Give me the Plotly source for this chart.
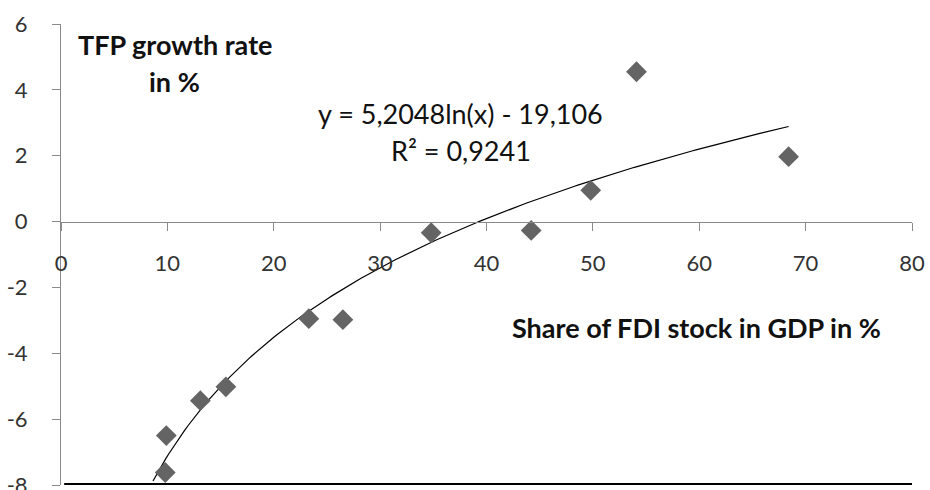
import numpy as np
import plotly.graph_objects as go

# data
fdi_share = [9.8, 9.9, 13.1, 15.5, 23.3, 26.5, 34.8, 44.2, 49.8, 54.1, 68.4]
tfp_growth = [-7.62, -6.5, -5.44, -5.02, -2.95, -2.98, -0.34, -0.27, 0.95, 4.55, 1.97]

# logarithmic trend line as displayed in the chart
trend_a = 5.2048
trend_b = -19.106
trend_x_min = 8.65
trend_x_max = 68.4

x_ticks = [0, 10, 20, 30, 40, 50, 60, 70, 80]
y_ticks = [-8, -6, -4, -2, 0, 2, 4, 6]
y_tick_labels = ["-8", "-6", "-4", "-2", "0", "2", "4", "6"]

tx = np.linspace(trend_x_min, trend_x_max, 200)
ty = trend_a * np.log(tx) + trend_b

FONT = "Lato"

fig = go.Figure()
fig.add_trace(go.Scatter(x=tx, y=ty, mode="lines",
                         line=dict(color="black", width=1.2),
                         hoverinfo="skip", showlegend=False))
fig.add_trace(go.Scatter(x=fdi_share, y=tfp_growth, mode="markers",
                         marker=dict(symbol="diamond", size=16, color="#646464",
                                     line=dict(width=0)),
                         showlegend=False))

fig.update_layout(
    width=930, height=490,
    margin=dict(l=61, r=18, t=24, b=5, autoexpand=False),
    paper_bgcolor="white", plot_bgcolor="white",
    font=dict(family=FONT, size=22, color="#333"),
    xaxis=dict(range=[0, 80], tickvals=x_ticks, showgrid=False, zeroline=False,
               showline=True, linecolor="#8a8a8a", linewidth=1,
               ticks="outside", ticklen=8, tickcolor="#8a8a8a",
               anchor="free", position=8 / 14, ticklabelstandoff=14,
               automargin=False,
               tickfont=dict(family=FONT, size=22, color="#333")),
    yaxis=dict(range=[-8, 6], tickvals=y_ticks, ticktext=y_tick_labels,
               showgrid=False, zeroline=False,
               showline=True, linecolor="#8a8a8a", linewidth=1,
               ticks="outside", ticklen=8, tickcolor="#8a8a8a",
               ticklabelstandoff=20, ticklabeloverflow="allow",
               automargin=False,
               tickfont=dict(family=FONT, size=22, color="#333")),
)

fig.add_shape(type="line", xref="x", yref="y", x0=0.3, x1=80, y0=-8, y1=-8,
              line=dict(color="black", width=4), layer="above")

ann_font = dict(family=FONT, size=27, color="#111")
fig.add_annotation(x=10.7, y=5.37, xref="x", yref="y", text="<b>TFP growth rate</b>",
                   showarrow=False, font=ann_font, xanchor="center", yanchor="middle")
fig.add_annotation(x=10.7, y=4.25, xref="x", yref="y", text="<b>in %</b>",
                   showarrow=False, font=ann_font, xanchor="center", yanchor="middle")
fig.add_annotation(x=37.6, y=3.29, xref="x", yref="y", text="y = 5,2048ln(x) - 19,106",
                   showarrow=False, font=ann_font, xanchor="center", yanchor="middle")
fig.add_annotation(x=37.6, y=2.16, xref="x", yref="y", text="R² = 0,9241",
                   showarrow=False, font=ann_font, xanchor="center", yanchor="middle")
fig.add_annotation(x=77.3, y=-3.23, xref="x", yref="y",
                   text="<b>Share of FDI stock in GDP in %</b>",
                   showarrow=False, font=ann_font, xanchor="right", yanchor="middle")

fig.write_html(
    "out.html",
    config={"displayModeBar": False},
    post_script="document.body.style.margin='0';document.body.style.overflow='hidden';",
)
